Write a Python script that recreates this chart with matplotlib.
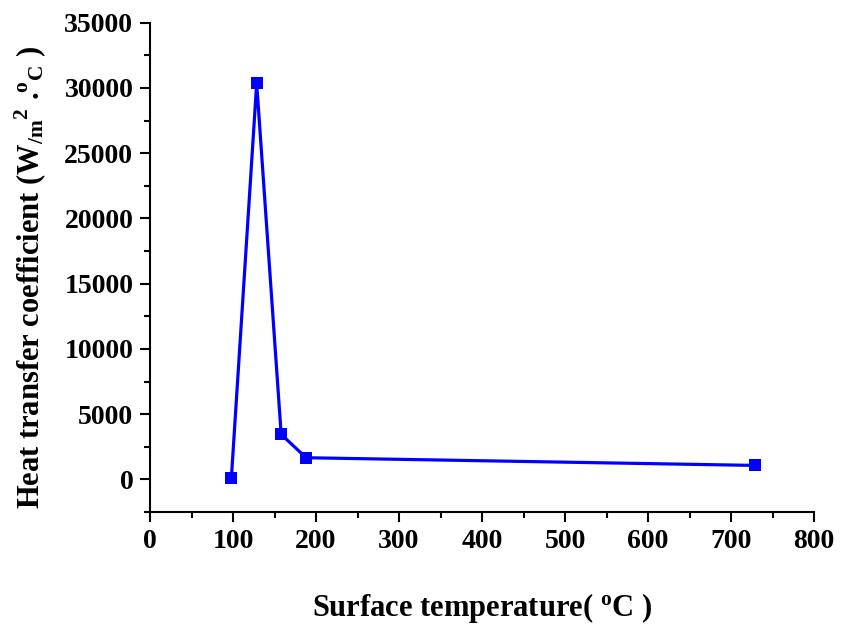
import matplotlib
matplotlib.use("Agg")
import matplotlib.pyplot as plt
from matplotlib.ticker import MultipleLocator

# Heat transfer coefficient vs. surface temperature
surface_temp = [98, 128.5, 158, 188, 729]          # deg C
htc = [100, 30350, 3450, 1660, 1070]               # W/m^2.C

plt.rcParams["font.family"] = "Liberation Serif"
plt.rcParams["font.weight"] = "bold"
plt.rcParams["mathtext.fontset"] = "custom"
plt.rcParams["mathtext.rm"] = "Liberation Serif:bold"
plt.rcParams["mathtext.bf"] = "Liberation Serif:bold"
plt.rcParams["mathtext.it"] = "Liberation Serif:bold"

fig = plt.figure(figsize=(8.41, 6.28), dpi=100)
ax = fig.add_axes([0.1784, 0.1847, 0.7895, 0.7792])

ax.plot(surface_temp, htc, color="#0000ff", linewidth=2.3,
        marker="s", markersize=8, markeredgewidth=0)

ax.set_xlim(0, 800)
ax.set_ylim(-2500, 35000)
ax.xaxis.set_major_locator(MultipleLocator(100))
ax.xaxis.set_minor_locator(MultipleLocator(50))
ax.yaxis.set_major_locator(MultipleLocator(5000))
ax.yaxis.set_minor_locator(MultipleLocator(2500))

for side in ("top", "right"):
    ax.spines[side].set_visible(False)
for side in ("left", "bottom"):
    ax.spines[side].set_linewidth(1.5)

ax.tick_params(which="major", direction="out", length=7, width=1.5,
               labelsize=20, pad=5)
ax.tick_params(which="minor", direction="out", length=4, width=1.5)
for lab in ax.get_xticklabels() + ax.get_yticklabels():
    lab.set_fontweight("bold")

ax.set_xlabel(r"Surface temperature( $^{\mathrm{o}}$C )", fontsize=22,
              fontweight="bold", labelpad=27)
ax.set_ylabel(r"Heat transfer coefficient (W$_{\mathrm{/m}}$$^{\mathrm{2}}$ .$^{\mathrm{o}}$$_{\mathrm{C}}$ )",
              fontsize=22, fontweight="bold")
ax.yaxis.set_label_coords(-0.153, 0.48)

fig.savefig("out.png", dpi=100)
